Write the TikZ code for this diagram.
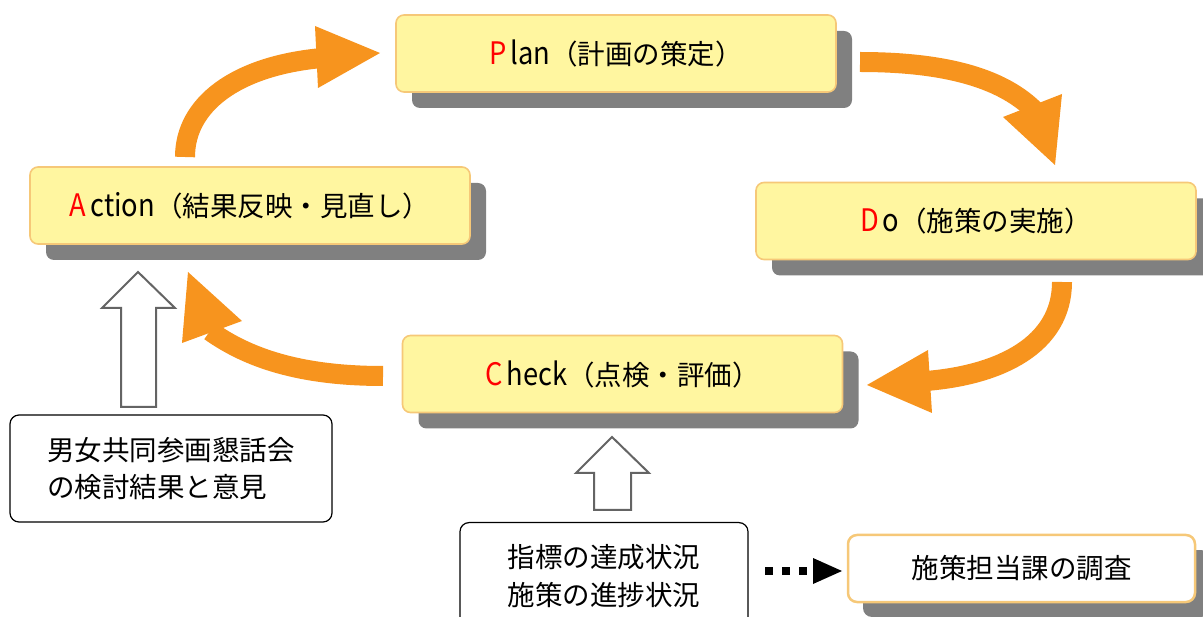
\documentclass[tikz,border=0pt]{standalone}
\usepackage{fontspec}
\usepackage{graphicx}
\setmainfont{Noto Sans CJK JP}
\usetikzlibrary{shadows}
\definecolor{boxfill}{RGB}{255,246,160}
\definecolor{boxedge}{RGB}{246,200,120}
\definecolor{shade}{RGB}{128,128,128}
\definecolor{orng}{RGB}{247,148,30}
\definecolor{hollow}{RGB}{100,100,100}
\definecolor{keyred}{RGB}{255,0,0}
\newcommand{\lat}[1]{\scalebox{0.88}[1]{\fontsize{31}{30}\selectfont #1}}
\newcommand{\initial}[1]{\lat{\textcolor{keyred}{#1}}\hspace{4pt}}
\begin{document}
\begin{tikzpicture}[x=1pt,y=-1pt,
  pdca/.style={draw=boxedge, line width=1.6pt, fill=boxfill, rounded corners=8pt,
    minimum width=440pt, minimum height=77pt, inner sep=0pt,
    font=\fontsize{27.5}{30}\selectfont,
    drop shadow={shadow xshift=16pt, shadow yshift=-16pt, fill=shade, opacity=1}},
  wbox/.style={draw=black, line width=1.2pt, fill=white, rounded corners=9pt, inner sep=0pt,
    font=\fontsize{27.5}{37}\selectfont},
  obox/.style={draw=boxedge, line width=2.5pt, fill=white, rounded corners=9pt,
    minimum width=347pt, minimum height=67pt, inner sep=0pt,
    font=\fontsize{27.5}{30}\selectfont,
    drop shadow={shadow xshift=15pt, shadow yshift=-15pt, fill=shade, opacity=1}},
  shaft/.style={draw=orng, line width=20pt},
  ohead/.style={fill=orng},
  hollowarrow/.style={draw=hollow, line width=2pt, fill=white, line join=miter}
]
\useasboundingbox (0,0) rectangle (1203,617);
\clip (0,0) rectangle (1203,617);

% PDCA boxes
\node[pdca] (plan)   at (616,53.5) {\initial{P}\lat{lan}（計画の策定）};
\node[pdca] (action) at (250,205.5) {\initial{A}\lat{ction}（結果反映・見直し）};
\node[pdca] (do)     at (976,221) {\initial{D}\lat{o}（施策の実施）};
\node[pdca] (check)  at (622.5,374) {\initial{C}\lat{heck}（点検・評価）};

% white boxes
\node[wbox, minimum width=322pt, minimum height=107pt, align=left] (danjo) at (171,468.5)
  {男女共同参画懇話会\\の検討結果と意見};
\node[wbox, minimum width=288pt, minimum height=130pt, anchor=north] (shihyo) at (604,522) {};
\node[font=\fontsize{27.5}{38}\selectfont, align=center, inner sep=0pt] (shihyotext) at (604,576)
  {指標の達成状況\\施策の進捗状況};
\node[obox] (chosa) at (1021.5,568.5) {施策担当課の調査};

% orange cycle arrows
\coordinate (a1s) at (185,157);
\coordinate (a1e) at (322,58);
\draw[shaft] (a1s) .. controls (185,105) and (235,66) .. (a1e);
\fill[ohead] (315,26) -- (380,53) -- (318,88) -- cycle;

\coordinate (a2s) at (860,62);
\coordinate (a2e) at (1036,112);
\draw[shaft] (a2s) .. controls (950,62) and (1005,80) .. (a2e);
\fill[ohead] (1003,117) -- (1062,94) -- (1055,165) -- cycle;

\coordinate (a3s) at (1062,282);
\coordinate (a3e) at (926,381);
\draw[shaft] (a3s) .. controls (1062,345) and (1000,375) .. (a3e);
\fill[ohead] (928,350) -- (867,385) -- (932,413) -- cycle;

\coordinate (a4s) at (383,376);
\coordinate (a4e) at (210,331);
\draw[shaft] (a4s) .. controls (300,376) and (248,358) .. (a4e);
\fill[ohead] (242,321) -- (188,272) -- (182,343) -- cycle;

% hollow up arrows
\draw[hollowarrow] (121,407) -- (121,308) -- (102,308) -- (138,272) -- (175,308) -- (156,308) -- (156,407) -- cycle;
\draw[hollowarrow] (594,510) -- (594,473) -- (576,473) -- (612,437) -- (649,473) -- (631,473) -- (631,510) -- cycle;

% dotted arrow
\draw[line width=8pt, dash pattern=on 8pt off 9pt] (765,571) -- (816,571);
\fill (813,558) -- (842,571) -- (813,584) -- cycle;
\end{tikzpicture}
\end{document}
